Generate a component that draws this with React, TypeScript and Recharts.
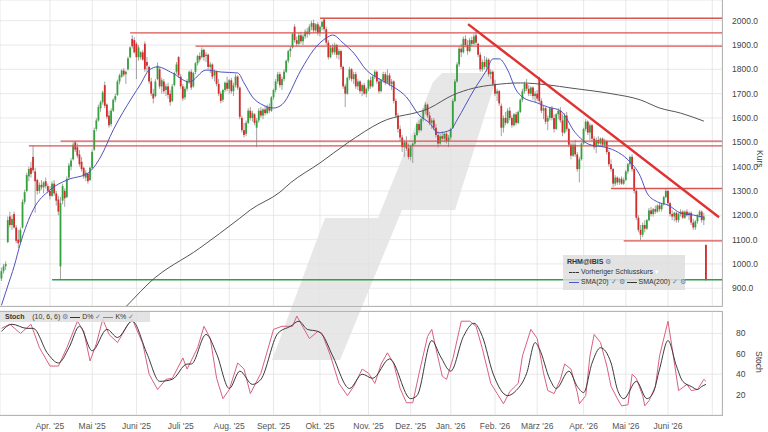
import React from 'react';
import {
  ComposedChart, Bar, Line, XAxis, YAxis, CartesianGrid, ReferenceLine,
} from 'recharts';

// daily candles, index 0 = 27 Feb 2025
const open = [
  940, 970, 990, 1090, 1195, 1160, 1205, 1150, 1100, 1090,
  1150, 1255, 1300, 1360, 1395, 1440, 1380, 1345, 1300, 1325,
  1315, 1340, 1320, 1300, 1280, 1330, 1290, 1265, 990, 1260,
  1300, 1275, 1355, 1400, 1430, 1500, 1480, 1450, 1420, 1395,
  1355, 1370, 1345, 1395, 1470, 1555, 1590, 1640, 1665, 1735,
  1655, 1610, 1575, 1630, 1675, 1695, 1750, 1770, 1795, 1780,
  1800, 1850, 1925, 1920, 1905, 1850, 1850, 1870, 1905, 1830,
  1810, 1750, 1700, 1690, 1760, 1800, 1730, 1750, 1715, 1730,
  1700, 1670, 1735, 1790, 1850, 1770, 1730, 1685, 1720, 1750,
  1790, 1730, 1790, 1825, 1855, 1850, 1880, 1855, 1860, 1810,
  1820, 1775, 1790, 1740, 1700, 1675, 1715, 1745, 1720, 1755,
  1710, 1735, 1770, 1725, 1600, 1550, 1535, 1580, 1630, 1600,
  1615, 1560, 1590, 1630, 1610, 1635, 1620, 1645, 1630, 1685,
  1715, 1750, 1780, 1735, 1760, 1790, 1835, 1875, 1890, 1975,
  1920, 1905, 1940, 1915, 1935, 1955, 1945, 1975, 1990, 1960,
  1985, 1950, 1975, 2005, 1965, 1910, 1850, 1890, 1870, 1900,
  1860, 1875, 1810, 1730, 1700, 1765, 1800, 1760, 1780, 1730,
  1750, 1710, 1735, 1700, 1720, 1755, 1730, 1770, 1790, 1750,
  1710, 1755, 1780, 1745, 1775, 1740, 1750, 1670, 1610, 1555,
  1520, 1480, 1500, 1475, 1440, 1485, 1495, 1530, 1575, 1550,
  1595, 1630, 1655, 1610, 1580, 1590, 1560, 1530, 1495, 1525,
  1515, 1535, 1505, 1520, 1560, 1670, 1750, 1820, 1885, 1870,
  1925, 1900, 1875, 1920, 1905, 1940, 1905, 1860, 1800, 1830,
  1810, 1840, 1780, 1790, 1740, 1700, 1710, 1650, 1560, 1600,
  1580, 1630, 1600, 1570, 1615, 1580, 1625, 1675, 1710, 1740,
  1720, 1700, 1725, 1690, 1700, 1765, 1670, 1630, 1640, 1585,
  1600, 1640, 1600, 1555, 1615, 1630, 1590, 1540, 1610, 1555,
  1490, 1445, 1490, 1450, 1390, 1430, 1495, 1555, 1585, 1540,
  1570, 1515, 1480, 1510, 1495, 1515, 1490, 1505, 1460, 1410,
  1390, 1330, 1355, 1335, 1350, 1330, 1345, 1380, 1410, 1440,
  1390, 1300, 1190, 1140, 1120, 1160, 1145, 1180, 1220, 1205,
  1225, 1215, 1240, 1225, 1245, 1275, 1300, 1250, 1205, 1195,
  1210, 1180, 1205, 1215, 1190, 1215, 1200, 1210, 1170, 1150,
  1175, 1200, 1215, 1180, 1078,
];
const high = [
  985, 1000, 1010, 1195, 1215, 1200, 1215, 1160, 1140, 1150,
  1265, 1305, 1375, 1400, 1420, 1485, 1395, 1350, 1335, 1345,
  1340, 1355, 1330, 1320, 1340, 1345, 1300, 1280, 1275, 1330,
  1310, 1360, 1415, 1435, 1500, 1505, 1495, 1468, 1440, 1400,
  1385, 1375, 1400, 1470, 1560, 1600, 1655, 1672, 1712, 1750,
  1660, 1630, 1640, 1680, 1700, 1758, 1782, 1800, 1805, 1795,
  1852, 1895, 1940, 1932, 1912, 1900, 1875, 1880, 1915, 1850,
  1815, 1765, 1720, 1760, 1828, 1810, 1765, 1760, 1740, 1745,
  1715, 1740, 1790, 1830, 1855, 1780, 1740, 1730, 1760, 1795,
  1800, 1790, 1830, 1860, 1870, 1890, 1885, 1870, 1865, 1830,
  1825, 1800, 1795, 1760, 1710, 1720, 1750, 1770, 1760, 1765,
  1745, 1780, 1775, 1730, 1610, 1580, 1590, 1640, 1645, 1630,
  1620, 1600, 1640, 1645, 1640, 1650, 1655, 1660, 1690, 1720,
  1760, 1790, 1790, 1770, 1800, 1840, 1880, 1895, 1950, 1985,
  1935, 1950, 1955, 1945, 1965, 1970, 1985, 2000, 2005, 1990,
  1995, 1980, 2000, 2012, 1975, 1920, 1900, 1905, 1910, 1905,
  1885, 1880, 1815, 1740, 1770, 1810, 1805, 1790, 1790, 1760,
  1755, 1740, 1745, 1725, 1760, 1770, 1775, 1798, 1795, 1765,
  1760, 1790, 1790, 1800, 1785, 1760, 1755, 1680, 1620, 1570,
  1530, 1510, 1525, 1495, 1490, 1500, 1540, 1580, 1590, 1600,
  1640, 1665, 1660, 1625, 1600, 1600, 1575, 1545, 1535, 1545,
  1540, 1545, 1530, 1560, 1680, 1760, 1830, 1895, 1905, 1935,
  1940, 1920, 1930, 1935, 1945, 1962, 1910, 1870, 1840, 1855,
  1850, 1845, 1800, 1795, 1755, 1720, 1715, 1660, 1610, 1625,
  1640, 1645, 1610, 1620, 1625, 1630, 1680, 1720, 1750, 1760,
  1735, 1730, 1730, 1710, 1715, 1770, 1680, 1650, 1645, 1610,
  1645, 1650, 1615, 1620, 1640, 1645, 1615, 1620, 1625, 1560,
  1500, 1500, 1510, 1460, 1440, 1500, 1560, 1595, 1590, 1580,
  1575, 1525, 1520, 1525, 1520, 1520, 1515, 1510, 1470, 1430,
  1395, 1365, 1360, 1355, 1360, 1355, 1385, 1415, 1445, 1450,
  1395, 1310, 1200, 1160, 1170, 1180, 1185, 1230, 1235, 1230,
  1240, 1245, 1250, 1250, 1280, 1308, 1305, 1255, 1220, 1215,
  1215, 1210, 1225, 1220, 1220, 1225, 1215, 1215, 1185, 1180,
  1205, 1222, 1220, 1210, 1080,
];
const low = [
  930, 960, 975, 1085, 1150, 1140, 1145, 1085, 1065, 1080,
  1145, 1245, 1295, 1340, 1355, 1375, 1210, 1285, 1290, 1305,
  1290, 1310, 1290, 1265, 1275, 1280, 1240, 1200, 935, 1245,
  1235, 1270, 1345, 1385, 1425, 1460, 1435, 1400, 1380, 1350,
  1340, 1330, 1340, 1390, 1465, 1545, 1585, 1625, 1655, 1640,
  1595, 1560, 1565, 1625, 1665, 1690, 1738, 1765, 1770, 1740,
  1795, 1845, 1885, 1865, 1760, 1835, 1840, 1835, 1790, 1790,
  1740, 1690, 1660, 1685, 1755, 1720, 1700, 1700, 1690, 1680,
  1650, 1665, 1730, 1780, 1765, 1720, 1670, 1675, 1710, 1740,
  1715, 1725, 1780, 1815, 1830, 1845, 1835, 1830, 1800, 1785,
  1760, 1750, 1730, 1690, 1660, 1665, 1705, 1710, 1700, 1700,
  1690, 1725, 1715, 1595, 1540, 1520, 1525, 1575, 1590, 1585,
  1570, 1480, 1580, 1600, 1595, 1610, 1615, 1620, 1625, 1675,
  1705, 1740, 1725, 1715, 1750, 1785, 1825, 1850, 1885, 1910,
  1895, 1900, 1905, 1900, 1925, 1930, 1940, 1960, 1950, 1950,
  1940, 1935, 1960, 1955, 1900, 1840, 1845, 1860, 1860, 1845,
  1840, 1800, 1720, 1645, 1695, 1755, 1750, 1740, 1720, 1715,
  1700, 1690, 1695, 1685, 1710, 1720, 1725, 1760, 1740, 1700,
  1705, 1745, 1735, 1740, 1730, 1715, 1660, 1600, 1540, 1505,
  1460, 1440, 1465, 1430, 1425, 1415, 1490, 1525, 1540, 1545,
  1585, 1615, 1600, 1570, 1555, 1550, 1520, 1478, 1490, 1505,
  1500, 1495, 1480, 1510, 1555, 1665, 1745, 1810, 1850, 1865,
  1890, 1860, 1870, 1895, 1900, 1900, 1850, 1790, 1790, 1800,
  1790, 1770, 1760, 1730, 1690, 1670, 1650, 1525, 1540, 1570,
  1575, 1590, 1560, 1565, 1570, 1575, 1620, 1665, 1700, 1710,
  1690, 1690, 1675, 1665, 1670, 1660, 1620, 1595, 1575, 1550,
  1590, 1590, 1540, 1550, 1595, 1580, 1525, 1535, 1545, 1480,
  1430, 1440, 1440, 1380, 1335, 1425, 1490, 1545, 1530, 1510,
  1505, 1470, 1455, 1485, 1490, 1480, 1480, 1450, 1400, 1380,
  1315, 1320, 1325, 1325, 1325, 1325, 1340, 1370, 1400, 1380,
  1290, 1180, 1130, 1098, 1110, 1130, 1140, 1175, 1195, 1195,
  1205, 1210, 1215, 1215, 1240, 1270, 1240, 1195, 1180, 1175,
  1170, 1170, 1195, 1185, 1185, 1195, 1180, 1160, 1140, 1140,
  1165, 1190, 1170, 1160, 930,
];
const close = [
  970, 990, 1000, 1180, 1160, 1185, 1150, 1095, 1085, 1140,
  1255, 1295, 1365, 1390, 1370, 1385, 1340, 1300, 1325, 1315,
  1335, 1320, 1300, 1280, 1330, 1290, 1260, 1215, 1250, 1320,
  1270, 1350, 1405, 1425, 1490, 1470, 1445, 1410, 1390, 1360,
  1375, 1340, 1395, 1460, 1550, 1590, 1645, 1665, 1705, 1650,
  1605, 1570, 1630, 1675, 1690, 1750, 1775, 1795, 1778, 1790,
  1845, 1890, 1895, 1870, 1850, 1890, 1870, 1840, 1800, 1815,
  1750, 1700, 1680, 1750, 1815, 1730, 1755, 1710, 1730, 1695,
  1665, 1730, 1785, 1820, 1775, 1730, 1680, 1720, 1750, 1790,
  1725, 1785, 1825, 1855, 1840, 1880, 1850, 1860, 1810, 1820,
  1770, 1790, 1740, 1700, 1670, 1715, 1745, 1720, 1755, 1710,
  1735, 1770, 1725, 1605, 1550, 1530, 1580, 1630, 1600, 1620,
  1580, 1590, 1630, 1610, 1635, 1620, 1645, 1630, 1685, 1715,
  1750, 1780, 1735, 1760, 1790, 1835, 1875, 1885, 1945, 1920,
  1905, 1940, 1915, 1935, 1955, 1945, 1975, 1990, 1960, 1985,
  1950, 1975, 1995, 1965, 1910, 1850, 1890, 1870, 1900, 1860,
  1875, 1810, 1730, 1700, 1765, 1800, 1760, 1780, 1730, 1750,
  1710, 1735, 1700, 1720, 1755, 1730, 1770, 1790, 1750, 1710,
  1755, 1780, 1745, 1775, 1740, 1750, 1670, 1610, 1555, 1520,
  1480, 1500, 1475, 1440, 1485, 1495, 1530, 1575, 1550, 1595,
  1630, 1655, 1610, 1580, 1590, 1560, 1530, 1495, 1525, 1515,
  1535, 1505, 1520, 1555, 1670, 1750, 1820, 1885, 1870, 1925,
  1900, 1875, 1920, 1905, 1935, 1910, 1860, 1800, 1830, 1810,
  1840, 1780, 1790, 1740, 1700, 1710, 1660, 1560, 1600, 1580,
  1630, 1600, 1570, 1615, 1580, 1625, 1675, 1710, 1740, 1720,
  1700, 1725, 1690, 1700, 1680, 1670, 1630, 1640, 1585, 1600,
  1640, 1600, 1555, 1615, 1630, 1590, 1540, 1610, 1555, 1490,
  1445, 1490, 1450, 1390, 1430, 1495, 1555, 1585, 1540, 1570,
  1515, 1480, 1510, 1495, 1515, 1490, 1505, 1460, 1410, 1390,
  1330, 1355, 1335, 1350, 1330, 1345, 1380, 1410, 1440, 1390,
  1300, 1190, 1140, 1120, 1160, 1145, 1180, 1220, 1205, 1225,
  1215, 1240, 1225, 1245, 1275, 1300, 1250, 1205, 1195, 1210,
  1180, 1205, 1215, 1190, 1215, 1200, 1210, 1170, 1150, 1175,
  1200, 1215, 1180, 1195, 935,
];

// moving averages: [day index, value]
const sma20 = [
  [0, 830], [3, 910], [6, 990], [9, 1085], [15, 1222], [23, 1304], [31, 1345], [41, 1373],
  [47, 1440], [53, 1551], [62, 1686], [66, 1740], [70, 1797], [74, 1810], [81, 1785],
  [89, 1748], [97, 1797], [104, 1789], [112, 1785], [115, 1744], [119, 1686], [124, 1653],
  [129, 1641], [133, 1655], [142, 1797], [148, 1880], [154, 1929], [157, 1941],
  [162, 1908], [167, 1867], [173, 1797], [180, 1756], [186, 1727], [192, 1686],
  [198, 1612], [203, 1579], [207, 1539], [213, 1551], [216, 1592], [224, 1715],
  [230, 1797], [233, 1843], [236, 1843], [240, 1797], [244, 1715], [247, 1686],
  [254, 1662], [259, 1645], [265, 1630], [272, 1540], [279, 1490], [286, 1480],
  [291, 1465], [297, 1428], [303, 1358], [306, 1292], [311, 1255], [316, 1242],
  [322, 1209], [328, 1201], [333, 1192],
];
const sma200 = [
  [56, 797], [62, 851], [70, 922], [94, 1065], [113, 1188], [118, 1222], [132, 1295],
  [137, 1333], [151, 1415], [164, 1497], [180, 1583], [203, 1641], [214, 1694],
  [224, 1723], [233, 1736], [246, 1744], [259, 1736], [270, 1723], [289, 1700],
  [303, 1674], [312, 1641], [322, 1620], [333, 1587],
];

// Stochastik (10, 6, 6)
const stochK = [
  [0, 85], [4, 89], [9, 80], [14, 89], [18, 66], [23, 48], [27, 48], [31, 66], [36, 92],
  [39, 82], [42, 53], [45, 70], [48, 94], [51, 79], [55, 71], [60, 89], [62, 94], [67, 70],
  [70, 40], [74, 25], [78, 35], [81, 36], [86, 56], [88, 45], [93, 66], [96, 87], [99, 75],
  [102, 36], [105, 16], [108, 25], [112, 51], [115, 45], [118, 21], [123, 41], [129, 84],
  [133, 87], [138, 87], [140, 97], [143, 86], [146, 75], [150, 82], [152, 80], [156, 58],
  [160, 31], [164, 19], [167, 28], [171, 45], [174, 41], [177, 31], [180, 50], [183, 61],
  [186, 50], [189, 26], [192, 12], [195, 12], [198, 41], [202, 77], [204, 84], [206, 65],
  [209, 38], [211, 35], [214, 55], [218, 92], [222, 92], [225, 87], [228, 65], [232, 31],
  [235, 21], [238, 11], [241, 23], [245, 31], [247, 58], [251, 84], [254, 75], [257, 41],
  [259, 24], [262, 21], [265, 35], [267, 50], [270, 45], [273, 22], [274, 11], [277, 19],
  [279, 58], [281, 79], [284, 71], [287, 48], [289, 28], [292, 16], [294, 9], [297, 10],
  [299, 40], [301, 36], [304, 19], [305, 9], [307, 14], [310, 28], [312, 58], [316, 92],
  [318, 65], [321, 24], [325, 30], [327, 24], [330, 25], [333, 35], [334, 33],
];
const stochD = [
  [0, 82], [5, 89], [12, 85], [15, 85], [22, 60], [27, 51], [32, 66], [37, 87], [43, 63],
  [50, 84], [55, 76], [62, 92], [69, 60], [75, 33], [81, 35], [88, 50], [90, 50], [97, 79],
  [102, 60], [108, 26], [113, 43], [119, 30], [123, 35], [131, 80], [137, 87], [141, 92],
  [145, 84], [150, 82], [152, 79], [157, 58], [165, 26], [171, 40], [176, 36], [184, 55],
  [194, 16], [197, 19], [204, 73], [208, 58], [213, 43], [219, 77], [224, 90], [228, 77],
  [233, 41], [240, 19], [244, 24], [249, 41], [253, 71], [255, 65], [260, 35], [263, 26],
  [269, 43], [273, 28], [276, 22], [280, 51], [284, 66], [289, 51], [292, 25], [295, 16],
  [301, 33], [306, 16], [309, 22], [312, 45], [316, 73], [320, 48], [323, 33], [327, 28],
  [330, 25], [332, 28], [334, 30],
];

// horizontal marks: price level and first day index
const redLevels = [2010, 1950, 1895, 1505, 1485, 1310, 1095];
const redLevelStart = [151, 61, 92, 28, 13, 289, 295];
const supportLevel = 935;
const supportStart = 24;
// falling trend line
const trendFrom = { i: 221.2, v: 1986 };
const trendTo = { i: 340.2, v: 1192 };

const monthIdx = [23, 43, 64, 85, 108, 129, 151, 174, 194, 213, 234, 254, 276, 296, 316, 337];
const monthLabels = [
  "Apr. '25", "Mai '25", "Juni '25", "Juli '25", "Aug. '25", "Sept. '25", "Okt. '25",
  "Nov. '25", "Dez. '25", "Jan. '26", "Feb. '26", "März '26", "Apr. '26", "Mai '26",
  "Juni '26", '',
];
const priceTicks = [900, 1000, 1100, 1200, 1300, 1400, 1500, 1600, 1700, 1800, 1900, 2000];
const stochTicks = [20, 40, 60, 80];

const X_DOMAIN: [number, number] = [-0.7, 341.6];
const FONT = '"Liberation Sans", Arial, sans-serif';

const candles = close.map((c, i) => ({
  i, open: open[i], high: high[i], low: low[i], close: c, range: [low[i], high[i]],
}));
const toPts = (arr: number[][]) => arr.map(([i, v]) => ({ i, v }));

function Candle(props: any) {
  const { x, y, width, height, payload } = props;
  if (!payload || height == null) return null;
  const top = Math.min(y, y + height);
  const h = Math.abs(height);
  const span = payload.high - payload.low || 1;
  const py = (v: number) => top + ((payload.high - v) / span) * h;
  const cx = x + width / 2;
  const up = payload.close >= payload.open;
  const b0 = py(Math.max(payload.open, payload.close));
  const b1 = py(Math.min(payload.open, payload.close));
  return (
    <g>
      <line x1={cx} x2={cx} y1={top} y2={top + h} stroke="#8c8c8c" strokeWidth={0.8} />
      <rect x={cx - 0.9} y={b0} width={1.8} height={Math.max(b1 - b0, 0.8)} fill={up ? '#33a23d' : '#d42b2b'} />
    </g>
  );
}

const gear = <span style={{ color: '#5b7fb5' }}>⚙</span>;
const tick = <span style={{ color: '#5b7fb5' }}>✓</span>;
const seg = (color: string, dashed = false) => (
  <span style={{ display: 'inline-block', width: 10, borderTop: `1.3px ${dashed ? 'dashed' : 'solid'} ${color}`, verticalAlign: 'middle', margin: '0 2px' }} />
);

export default function App() {
  return (
    <div style={{ position: 'absolute', left: 0, top: 0, width: 768, height: 432, background: '#fff', fontFamily: FONT, overflow: 'hidden' }}>
      {/* logo watermark */}
      <svg width={768} height={432} style={{ position: 'absolute', left: 0, top: 0 }}>
        <polygon points="272,360 325,218 378,218 433,82 442,73 488,73 496,80 455,210 402,210 340,360" fill="#e7e7e7" />
      </svg>

      <div style={{ position: 'absolute', left: 0, top: 0 }}>
        <ComposedChart width={768} height={306} data={candles} margin={{ top: 0, right: 0, bottom: 0, left: 0 }}>
          <CartesianGrid stroke="#e2e2e2" strokeWidth={0.8} />
          <XAxis dataKey="i" type="number" domain={X_DOMAIN} allowDataOverflow ticks={monthIdx} hide />
          <YAxis
            orientation="right" width={46} domain={[827, 2085]} allowDataOverflow ticks={priceTicks}
            tickFormatter={(v: number) => v.toFixed(1)} axisLine={false} tickLine={false} tickMargin={4}
            tick={{ fontSize: 8.5, fill: '#444', fontFamily: FONT }}
          />
          {redLevels.map((v, k) => (
            <ReferenceLine key={v} segment={[{ x: redLevelStart[k], y: v }, { x: X_DOMAIN[1], y: v }]} stroke="#d9534f" strokeWidth={1.3} />
          ))}
          <ReferenceLine segment={[{ x: supportStart, y: supportLevel }, { x: X_DOMAIN[1], y: supportLevel }]} stroke="#2e9e4a" strokeWidth={1.5} />
          <Bar dataKey="range" shape={<Candle />} barSize={2} isAnimationActive={false} />
          <Line data={toPts(sma200)} dataKey="v" type="monotone" stroke="#555" strokeWidth={1} dot={false} activeDot={false} isAnimationActive={false} />
          <Line data={toPts(sma20)} dataKey="v" type="monotone" stroke="#4f52c0" strokeWidth={1} dot={false} activeDot={false} isAnimationActive={false} />
          <ReferenceLine segment={[{ x: trendFrom.i, y: trendFrom.v }, { x: trendTo.i, y: trendTo.v }]} stroke="#e03232" strokeWidth={2.4} />
        </ComposedChart>
      </div>

      <div style={{ position: 'absolute', left: 0, top: 307 }}>
        <ComposedChart width={768} height={125} margin={{ top: 4, right: 0, bottom: 0, left: 0 }}>
          <CartesianGrid stroke="#e2e2e2" strokeWidth={0.8} />
          <XAxis
            dataKey="i" type="number" domain={X_DOMAIN} allowDataOverflow ticks={monthIdx} height={17}
            tickFormatter={(v: number) => monthLabels[monthIdx.indexOf(v)] ?? ''}
            axisLine={false} tickLine={false} tickMargin={2} interval={0}
            tick={{ fontSize: 8.5, fill: '#555', fontFamily: FONT }}
          />
          <YAxis
            orientation="right" width={46} domain={[0, 102]} allowDataOverflow ticks={stochTicks}
            axisLine={false} tickLine={false} tickMargin={8}
            tick={{ fontSize: 8.5, fill: '#444', fontFamily: FONT }}
          />
          <Line data={toPts(stochK)} dataKey="v" type="linear" stroke="#d9607f" strokeWidth={1} dot={false} activeDot={false} isAnimationActive={false} />
          <Line data={toPts(stochD)} dataKey="v" type="monotone" stroke="#3a3a3a" strokeWidth={1} dot={false} activeDot={false} isAnimationActive={false} />
        </ComposedChart>
      </div>

      {/* panel frames and axis titles */}
      <svg width={768} height={432} style={{ position: 'absolute', left: 0, top: 0, pointerEvents: 'none' }}>
        <line x1={722.5} x2={722.5} y1={0} y2={306.5} stroke="#b5b5b5" />
        <line x1={0} x2={722.5} y1={306.5} y2={306.5} stroke="#b5b5b5" />
        <rect x={-1} y={311.5} width={723.5} height={104} fill="none" stroke="#b5b5b5" />
        <text x={0} y={0} transform="translate(757,150) rotate(90)" fontSize={8.5} fill="#444" fontFamily={FONT}>Kurs</text>
        <text x={0} y={0} transform="translate(756,351) rotate(90)" fontSize={8.5} fill="#444" fontFamily={FONT}>Stoch</text>
      </svg>

      {/* price legend */}
      <div style={{ position: 'absolute', left: 563, top: 255, width: 122, height: 35, background: 'rgba(222,222,222,0.85)', fontSize: 7, color: '#333', lineHeight: '10px', padding: '2px 0 0 4px', boxSizing: 'border-box', whiteSpace: 'nowrap' }}>
        <div><b>RHM@IBIS</b> {gear}</div>
        <div>{seg('#333', true)}Vorheriger Schlusskurs <span style={{ color: '#fff' }}>▾</span></div>
        <div>{seg('#4f52c0')}SMA(20) {tick} {gear}{seg('#333')}SMA(200) {tick} {gear}</div>
      </div>

      {/* stoch legend */}
      <div style={{ position: 'absolute', left: 0, top: 312, width: 150, height: 10, background: 'rgba(222,222,222,0.85)', fontSize: 7, color: '#333', lineHeight: '10px', paddingLeft: 5, boxSizing: 'border-box', whiteSpace: 'nowrap' }}>
        <b>Stoch</b>&nbsp;&nbsp;&nbsp;&nbsp;(10, 6, 6) {gear}{seg('#333')}D% {tick}{seg('#d9607f')}K% {tick}
      </div>
    </div>
  );
}
